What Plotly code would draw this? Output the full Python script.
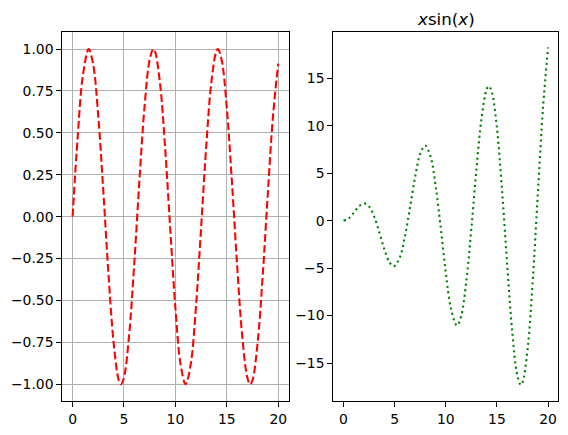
import plotly.graph_objects as go

# left panel: red dashed curve
left_x = [0.0, 0.5, 1.0, 1.571, 2.0, 2.5, 3.0, 3.5, 4.0, 4.5, 4.712, 5.0, 5.5,
          6.0, 6.5, 7.0, 7.5, 7.854, 8.0, 8.5, 9.0, 9.5, 10.0, 10.5, 10.996,
          11.5, 12.0, 12.5, 13.0, 13.5, 14.0, 14.137, 14.5, 15.0, 15.5, 16.0,
          16.5, 17.0, 17.279, 17.5, 18.0, 18.5, 19.0, 19.5, 20.0]
left_y = [0.000, 0.479, 0.841, 1.000, 0.909, 0.598, 0.141, -0.351, -0.757,
          -0.978, -1.000, -0.959, -0.706, -0.279, 0.215, 0.657, 0.938, 1.000,
          0.989, 0.798, 0.412, -0.075, -0.544, -0.880, -1.000, -0.876, -0.537,
          -0.066, 0.420, 0.804, 0.991, 1.000, 0.935, 0.650, 0.206, -0.288,
          -0.712, -0.961, -1.000, -0.976, -0.751, -0.343, 0.150, 0.606, 0.913]

# right panel: green dotted curve
right_x = [0.0, 0.5, 1.0, 1.5, 2.029, 2.5, 3.0, 3.5, 4.0, 4.5, 4.913, 5.5,
           6.0, 6.5, 7.0, 7.5, 7.979, 8.5, 9.0, 9.5, 10.0, 10.5, 11.086, 11.5,
           12.0, 12.5, 13.0, 13.5, 14.0, 14.207, 14.5, 15.0, 15.5, 16.0, 16.5,
           17.0, 17.336, 17.5, 18.0, 18.5, 19.0, 19.5, 20.0]
right_y = [0.000, 0.240, 0.841, 1.496, 1.820, 1.496, 0.423, -1.228, -3.027,
           -4.399, -4.816, -3.880, -1.676, 1.398, 4.599, 7.035, 7.917, 6.787,
           3.709, -0.713, -5.440, -9.237, -11.041, -10.068, -6.439, -0.829,
           5.463, 10.851, 13.868, 14.172, 13.556, 9.754, 3.195, -4.606,
           -11.748, -16.344, -17.308, -17.075, -13.518, -6.336, 2.848, 11.807,
           18.258]

left_yticks = [-1.0, -0.75, -0.5, -0.25, 0.0, 0.25, 0.5, 0.75, 1.0]
right_yticks = [-15, -10, -5, 0, 5, 10, 15]
x_ticks = [0, 5, 10, 15, 20]
title_text = "<i>x</i>sin(<i>x</i>)"

W, H = 568, 435
font = dict(family="DejaVu Sans", size=13.9, color="black")

fig = go.Figure()
fig.add_trace(go.Scatter(x=left_x, y=left_y, mode="lines",
                         line=dict(color="red", width=2.08, dash="7.7px,3.3px", shape="spline"),
                         xaxis="x", yaxis="y", showlegend=False, hoverinfo="skip"))
fig.add_trace(go.Scatter(x=right_x, y=right_y, mode="lines",
                         line=dict(color="green", width=2.08, dash="2.1px,3.4px", shape="spline"),
                         xaxis="x2", yaxis="y2", showlegend=False, hoverinfo="skip"))

ax_common = dict(showline=True, linecolor="black", linewidth=1, mirror=True,
                 ticks="outside", ticklen=5, tickwidth=1, tickcolor="black",
                 zeroline=False, tickfont=font)

y_dom = [1 - 401 / H, 1 - 32.3 / H]

fig.update_layout(
    width=W, height=H,
    margin=dict(l=0, r=0, t=0, b=0),
    paper_bgcolor="white", plot_bgcolor="white",
    font=font, hovermode=False,
    xaxis=dict(domain=[62.3 / W, 288.5 / W], range=[-1, 21], tickvals=x_ticks,
               showgrid=True, gridcolor="#b0b0b0", gridwidth=1, anchor="y", **ax_common),
    yaxis=dict(domain=y_dom, range=[-1.1, 1.1], tickvals=left_yticks, tickformat=".2f",
               showgrid=True, gridcolor="#b0b0b0", gridwidth=1, anchor="x", **ax_common),
    xaxis2=dict(domain=[333.3 / W, 558.3 / W], range=[-1, 21], tickvals=x_ticks,
                showgrid=False, anchor="y2", **ax_common),
    yaxis2=dict(domain=y_dom, range=[-19.0, 19.85], tickvals=right_yticks,
                showgrid=False, anchor="x2", **ax_common),
    annotations=[dict(text=title_text, xref="paper", yref="paper",
                      x=445.8 / W, y=1 - 19.5 / H, xanchor="center", yanchor="middle",
                      showarrow=False, font=dict(family="DejaVu Sans", size=16.7, color="black"))],
)

fig.write_html("out.html", config={"displayModeBar": False, "staticPlot": True},
               post_script="document.body.style.margin='0';document.body.style.overflow='hidden';")
